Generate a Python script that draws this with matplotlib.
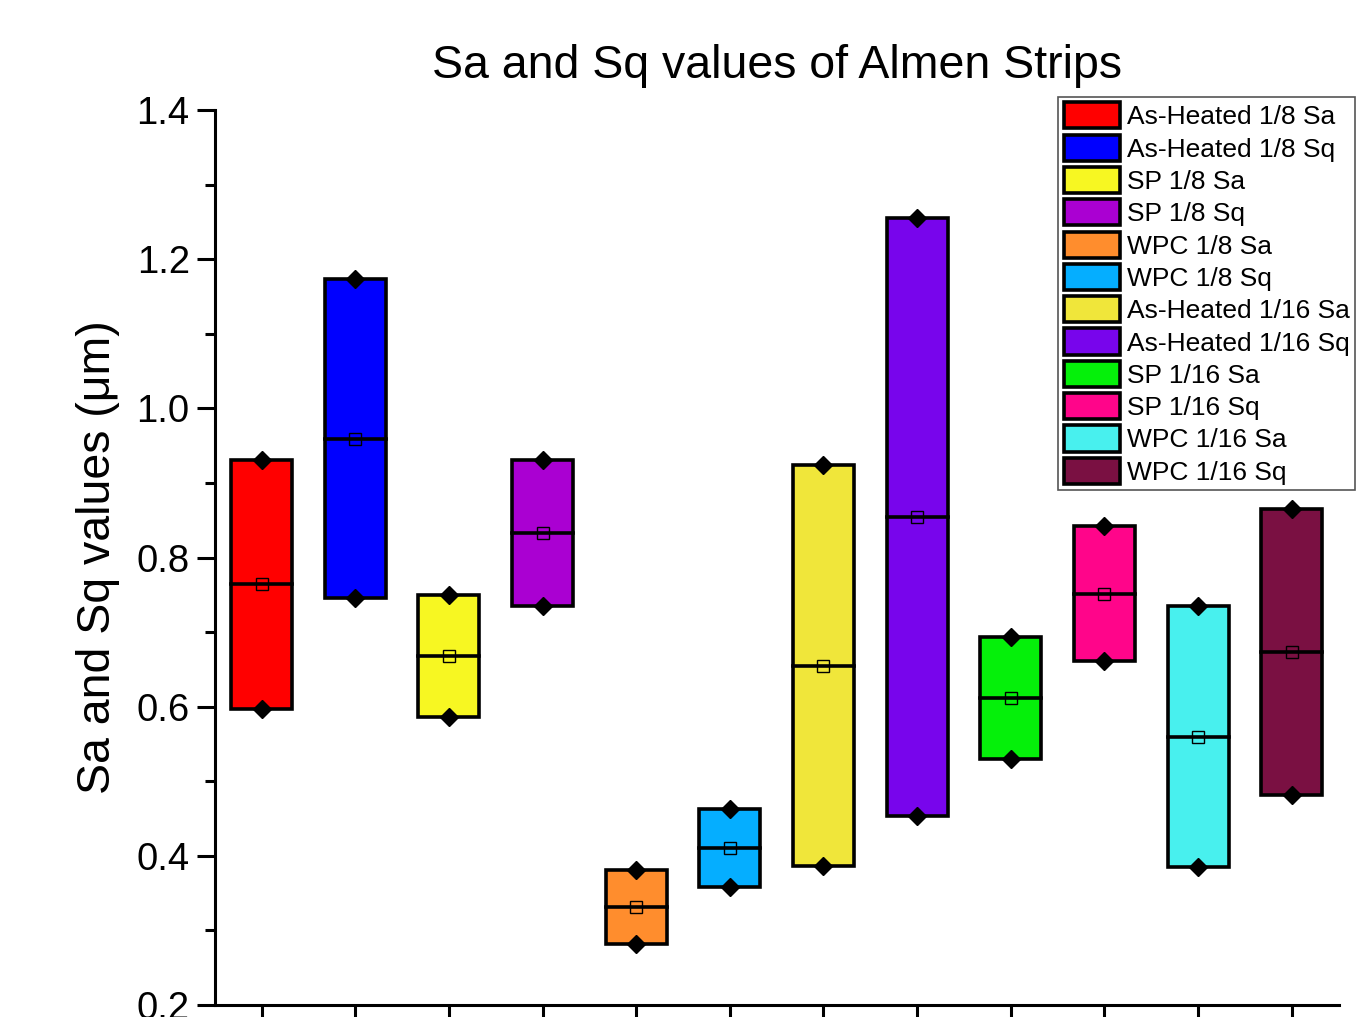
import matplotlib.pyplot as plt
from matplotlib.ticker import MultipleLocator

plt.rcParams['font.family'] = ['Liberation Sans', 'DejaVu Sans']

labels = ['As-Heated 1/8 Sa', 'As-Heated 1/8 Sq', 'SP 1/8 Sa', 'SP 1/8 Sq',
          'WPC 1/8 Sa', 'WPC 1/8 Sq', 'As-Heated 1/16 Sa', 'As-Heated 1/16 Sq',
          'SP 1/16 Sa', 'SP 1/16 Sq', 'WPC 1/16 Sa', 'WPC 1/16 Sq']
vmin = [0.597, 0.746, 0.586, 0.735, 0.282, 0.358, 0.386, 0.453, 0.530, 0.661, 0.385, 0.482]
vmax = [0.931, 1.173, 0.750, 0.931, 0.381, 0.463, 0.924, 1.255, 0.693, 0.842, 0.735, 0.865]
vmean = [0.764, 0.959, 0.668, 0.833, 0.331, 0.410, 0.655, 0.854, 0.611, 0.751, 0.560, 0.673]
colors = ['#FF0000', '#0000FF', '#F7F722', '#AA00D2', '#FF8D2D', '#05AEFF',
          '#F0E63A', '#7805EC', '#05F00A', '#FF058A', '#48F0EE', '#7A1042']

fig = plt.figure(figsize=(13.59, 10.17), dpi=100)
ax = fig.add_axes([0.158, 0.0118, 0.827, 0.880])

pos = list(range(1, len(labels) + 1))
w = 0.65
for x, lo, hi, m, c, lab in zip(pos, vmin, vmax, vmean, colors, labels):
    ax.bar(x, hi - lo, bottom=lo, width=w, color=c, edgecolor='black',
           linewidth=2.6, label=lab, zorder=2)
    ax.plot([x - w / 2, x + w / 2], [m, m], color='black', lw=2.6, zorder=3)
    ax.plot(x, m, marker='s', ms=8, mfc='none', mec='black', mew=1.0, zorder=4)
    ax.plot([x, x], [lo, hi], ls='none', marker='D', ms=9, color='black', zorder=5)

ax.set_xlim(0.5, 12.5)
ax.set_ylim(0.2, 1.4)
ax.set_xticks(pos)
ax.set_xticklabels([])
ax.yaxis.set_major_locator(MultipleLocator(0.2))
ax.yaxis.set_minor_locator(MultipleLocator(0.1))
ax.tick_params(axis='both', which='major', direction='out', length=13, width=2.2,
               labelsize=27.5, pad=5)
ax.tick_params(axis='y', which='minor', direction='out', length=7, width=2.2)
ax.spines['top'].set_visible(False)
ax.spines['right'].set_visible(False)
for s in ('left', 'bottom'):
    ax.spines[s].set_linewidth(2.2)

ax.set_ylabel('Sa and Sq values (μm)', fontsize=33.5, labelpad=12)
ax.set_title('Sa and Sq values of Almen Strips', fontsize=33.5, pad=23)

leg = ax.legend(loc='upper right', bbox_to_anchor=(1355 / 1359, 1 - 97 / 1017),
                bbox_transform=fig.transFigure, fontsize=19, frameon=True,
                fancybox=False, edgecolor='#555555', framealpha=1,
                handlelength=2.15, handleheight=1.15, handletextpad=0.25,
                labelspacing=0.2, borderpad=0.2, borderaxespad=0)
leg.get_frame().set_linewidth(1.2)

fig.savefig('out.png', dpi=100)
